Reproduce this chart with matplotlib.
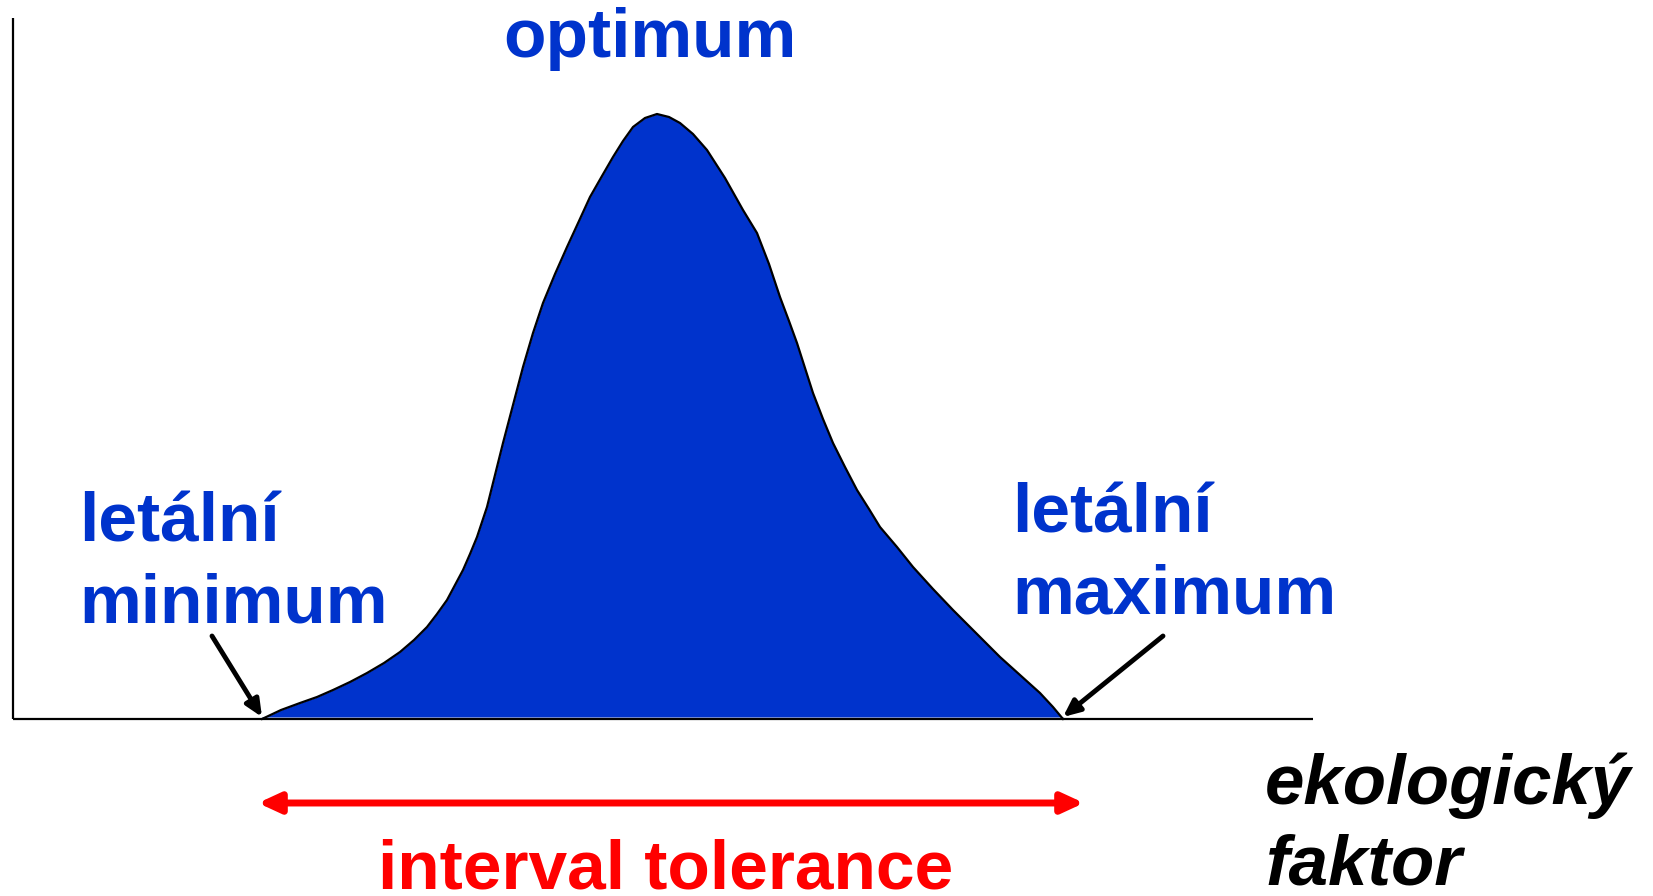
import numpy as np
import matplotlib as mpl
mpl.use('Agg')
import matplotlib.pyplot as plt

#----- DATA -----
# ecological factor (x) vs. tolerance response (y)
factor = [249, 268, 287, 304, 320, 337, 354, 371, 387, 401, 414, 424, 434,
          442, 450, 457, 464, 469, 474, 482, 490, 500, 510, 520, 530, 542,
          554, 566, 577, 589, 600, 610, 620, 632, 644, 656, 667, 680, 694,
          712, 730, 744, 756, 767, 776, 784, 792, 800, 810, 820, 832, 844,
          856, 867, 884, 900, 920, 940, 964, 987, 1007, 1027, 1040, 1050]
response = [0, 9, 16, 22, 29, 37, 46, 56, 67, 79, 92, 105, 119,
            134, 149, 165, 182, 197, 212, 244, 276, 314, 352, 386, 416, 445,
            472, 498, 522, 543, 562, 578, 592, 601, 605, 602, 596, 585, 569,
            541, 509, 486, 455, 422, 398, 376, 351, 326, 300, 276, 252, 229,
            210, 192, 172, 152, 130, 109, 85, 62, 44, 26, 12, 0]

title_opt = 'optimum'
label_min = 'letální\nminimum'
label_max = 'letální\nmaximum'
label_tol = 'interval tolerance'
label_x = 'ekologický\nfaktor'

#------ Figure ----------
blue = '#0033cc'
red = '#ff0000'
fnt = 'Liberation Sans'

fig = plt.figure(figsize=[16.53, 8.96], dpi=100)
ax = fig.add_axes([0, 0, 1, 1])
ax.set_xlim(-13, 1640)
ax.set_ylim(-177, 719)
ax.axis('off')

# axes lines
ax.plot([0, 0], [0, 701], color='k', lw=1.6, solid_capstyle='butt')
ax.plot([0, 1300], [0, 0], color='k', lw=1.6, solid_capstyle='butt')

ax.fill_between(factor, 2, response, color=blue, lw=0)
ax.plot(factor, response, color='k', lw=1.6, solid_joinstyle='round')

ax.text(637, 680, title_opt, color=blue, fontsize=50, fontweight='bold',
        family=fnt, ha='center', va='center')
ax.text(66, 155, label_min, color=blue, fontsize=50, fontweight='bold',
        family=fnt, ha='left', va='center', linespacing=1.33)
ax.text(999, 164, label_max, color=blue, fontsize=50, fontweight='bold',
        family=fnt, ha='left', va='center', linespacing=1.33)
ax.text(653, -151, label_tol, color=red, fontsize=50, fontweight='bold',
        family=fnt, ha='center', va='center')
ax.text(1252, -107, label_x, color='k', fontsize=51, fontweight='bold',
        fontstyle='italic', family=fnt, ha='left', va='center', linespacing=1.3)

# pointer arrows
ax.annotate('', xy=(249, 2), xytext=(199, 83),
            arrowprops=dict(arrowstyle='-|>,head_length=1.0,head_width=0.45',
                            color='k', lw=3.5, shrinkA=0, shrinkB=0))
ax.annotate('', xy=(1050, 2), xytext=(1150, 83),
            arrowprops=dict(arrowstyle='-|>,head_length=1.0,head_width=0.45',
                            color='k', lw=3.5, shrinkA=0, shrinkB=0))

# tolerance interval
ax.annotate('', xy=(245, -84), xytext=(1071, -84),
            arrowprops=dict(arrowstyle='<|-|>,head_length=1.3,head_width=0.6',
                            color=red, lw=5, shrinkA=0, shrinkB=0))

fig.savefig('out.png')
plt.close(fig)
